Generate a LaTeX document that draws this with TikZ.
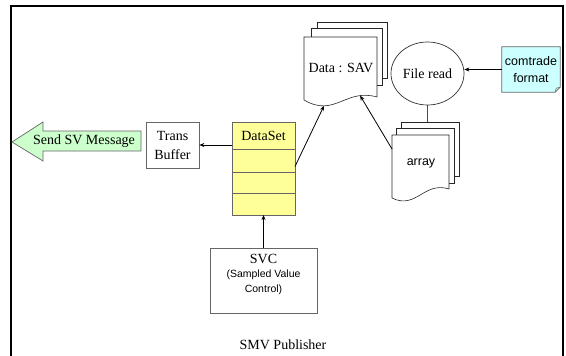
\documentclass[tikz,border=0pt]{standalone}
\usepackage{fontspec}
\setmainfont{Liberation Serif}
\setsansfont{Liberation Sans}
\usetikzlibrary{positioning,arrows.meta,shapes.geometric,backgrounds}
\definecolor{msggreen}{HTML}{CCFFCC}
\definecolor{dsyellow}{HTML}{FFFF99}
\definecolor{notecyan}{HTML}{CCFFFF}

\begin{document}
\begin{tikzpicture}[
  x=1pt, y=-1pt,
  font=\fontsize{14}{19}\selectfont,
  box/.style={draw=black!60, line width=0.7pt, align=center, inner sep=0pt},
  cell/.style={draw=black!60, fill=dsyellow, line width=0.7pt, minimum width=63pt, inner sep=0pt, outer sep=0pt},
  page/.style={draw=black!85, fill=white, line width=0.6pt},
  link/.style={line width=0.8pt, -{Stealth[length=5pt,width=4pt]}},
  sans/.style={font=\sffamily\fontsize{12.5}{17}\selectfont, align=center, inner sep=0pt}
]
  \useasboundingbox (0,0) rectangle (566,356);

  % publisher frame, open at the bottom
  \draw[line width=2pt] (11,357) -- (11,6) -- (563,6) -- (563,357);
  \node[inner sep=0pt] (pub) at (283,345) {SMV Publisher};

  % outgoing message arrow
  \filldraw[fill=msggreen, draw=black!60, line width=0.7pt]
    (12,142) -- (43,122) -- (43,131) -- (141,131) -- (141,151) -- (43,151) -- (43,161) -- cycle;
  \node[inner sep=0pt] (msg) at (84,141) {Send SV Message};

  \node[box, minimum width=53pt, minimum height=46pt] (tb) at (172.5,145) {Trans\\Buffer};

  % data set rows
  \node[cell, minimum height=27pt] (ds1) at (263.5,135.5) {DataSet};
  \node[cell, minimum height=23pt, below=0pt of ds1] (ds2) {};
  \node[cell, minimum height=21pt, below=0pt of ds2] (ds3) {};
  \node[cell, minimum height=22pt, below=0pt of ds3] (ds4) {};

  % sampled value control
  \node[box, minimum width=107pt, minimum height=65pt] (svc) at (263.5,280.5) {};
  \node[inner sep=0pt] (svctitle) at (263.5,258.5) {SVC};
  \node[sans, font=\sffamily\fontsize{10.5}{15}\selectfont] (svcsub) at (263.5,282) {(Sampled Value\\Control)};

  % Data : SAV stack
  \draw[page] (317,22) rectangle (387,78);
  \draw[page] (311,28) rectangle (382,85);
  \draw[page] (304,37) -- (377,37) -- (377,97)
    .. controls (345,88) and (335,118) .. (304,100)
    coordinate[pos=0.2] (savB) coordinate[pos=0.75] (savA) -- cycle;
  \node[inner sep=0pt] (sav) at (341,68) {Data : SAV};

  % array stack
  \draw[page] (401,122) rectangle (459,176);
  \draw[page] (396,128) rectangle (454,183);
  \draw[page] (392,135) -- (449,135) -- (449,189)
    .. controls (424,181) and (416,210) .. (392,198) -- cycle;
  \node[sans] (arr) at (421,163) {array};
  \coordinate (arrtop) at (430,122);
  \coordinate (arrL) at (392,149);

  \node[ellipse, draw=black!80, line width=0.7pt, minimum width=73pt, minimum height=63pt, inner sep=0pt] (fr) at (427.5,73.5) {File read};

  % comtrade note with folded corner
  \node[sans, minimum width=58pt, minimum height=45pt] (ctf) at (531,69.5) {comtrade\\format};
  \begin{scope}[on background layer]
    \filldraw[fill=notecyan, draw=black!60, line width=0.7pt]
      (ctf.north west) -- (ctf.north east) -- ([yshift=5pt]ctf.south east)
      -- ([xshift=-5pt]ctf.south east) -- (ctf.south west) -- cycle;
    \draw[black!60, line width=0.6pt]
      ([xshift=-5pt]ctf.south east) -- ([xshift=-4pt,yshift=4pt]ctf.south east) -- ([yshift=5pt]ctf.south east);
  \end{scope}

  % connectors
  \draw[link] (ds1.west |- tb.east) -- (tb.east);
  \draw[link] ([yshift=-6pt]ds2.east) -- (savA);
  \draw[link] (arrL) -- (savB);
  \draw[black!70, line width=0.7pt] (fr.south) -- (fr.south |- arrtop);
  \draw[link] (ctf.west) -- (ctf.west -| fr.east);
  \draw[link] (svc.north) -- (ds4.south);
\end{tikzpicture}
\end{document}
